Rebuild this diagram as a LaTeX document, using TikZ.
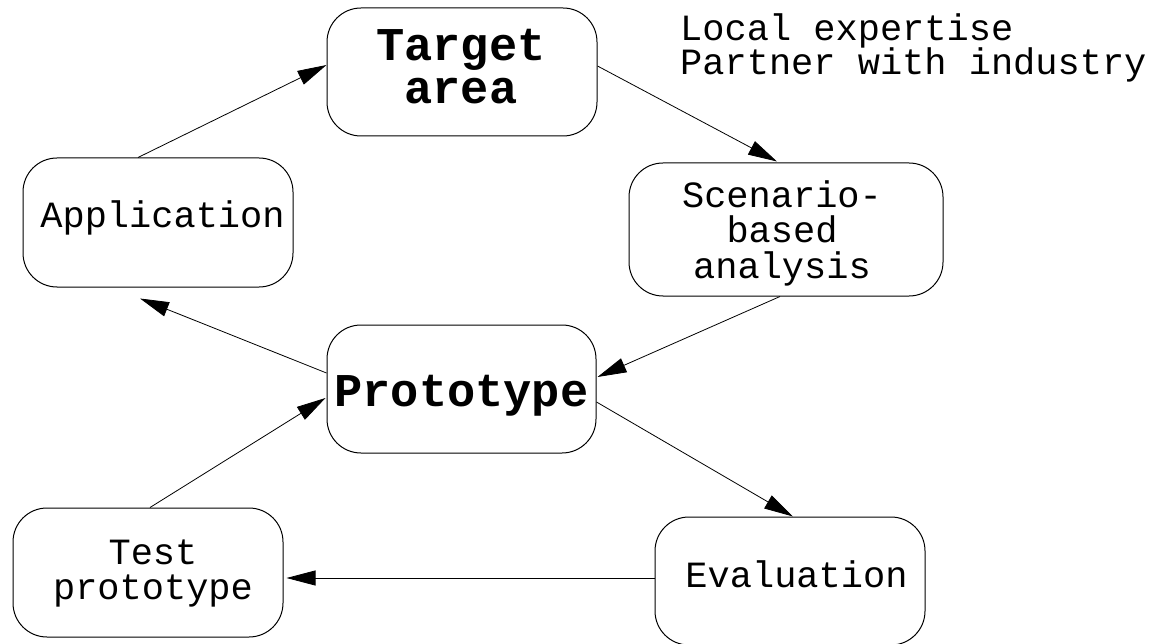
\documentclass[tikz,border=0pt]{standalone}
\usepackage{fontspec}
\newfontfamily\monofont{Liberation Mono}
\newcommand\tightlines{\lineskiplimit-40pt\relax}
\usetikzlibrary{arrows.meta,calc}
\begin{document}
\begin{tikzpicture}[x=1pt,y=-1pt,
  box/.style={draw, line width=1pt, rounded corners=34pt, inner sep=0pt},
  txt/.style={inner sep=0pt, align=center, font=\monofont\fontsize{37}{35.5}\selectfont\tightlines},
  btxt/.style={inner sep=0pt, align=center, font=\monofont\bfseries\fontsize{47}{43}\selectfont\tightlines},
  note/.style={inner sep=0pt, align=left, font=\monofont\fontsize{37}{34}\selectfont\tightlines},
  arr/.style={line width=0.8pt, -{Triangle[length=29pt,width=15pt]}}]
\useasboundingbox (0,0) rectangle (1158,644);
% boxes
\node[box, minimum width=270pt, minimum height=128pt] (tgt) at (462,72) {};
\node[box, minimum width=314pt, minimum height=133pt] (scen) at (786,229.5) {};
\node[box, minimum width=270pt, minimum height=129pt] (app) at (158,222.5) {};
\node[box, minimum width=269pt, minimum height=128pt] (proto) at (461.5,389) {};
\node[box, minimum width=270pt, minimum height=129pt] (test) at (148,572.5) {};
\node[box, minimum width=270pt, minimum height=128pt] (eval) at (790,581) {};
% texts
\node[btxt] (tgt-t) at (461,66.5) {Target\\area};
\node[txt] (scen-t) at (782,233) {Scenario-\\based\\analysis};
\node[txt, anchor=base] (app-t) at (162.5,228) {Application};
\node[btxt, anchor=base] (proto-t) at (461.5,406) {Prototype};
\node[txt] (test-t) at (153,573.5) {Test\\prototype};
\node[txt, anchor=base] (eval-t) at (796.5,587) {Evaluation};
\node[note, anchor=north west] (note) at (680,13) {Local expertise\\Partner with industry};
% connectors
\draw[arr] ($(app.north)+(-20,0)$) -- ($(tgt.west)+(0,-7)$);
\draw[arr] ($(tgt.east)+(0,-6)$) -- ($(scen.north)+(-9,-1)$);
\draw[arr] ($(scen.south)+(-6,0)$) -- ($(proto.east)+(1,-12)$);
\draw[arr] ($(proto.west)+(0,-16)$) -- ($(app.south)+(-18,11)$);
\draw[arr] ($(proto.east)+(0,13)$) -- ($(eval.north)+(3,0)$);
\draw[arr] ($(eval.west)+(0,-3)$) -- ($(test.east)+(3,5.5)$);
\draw[arr] ($(test.north)+(2,0)$) -- ($(proto.west)+(-1,9)$);
\end{tikzpicture}
\end{document}
